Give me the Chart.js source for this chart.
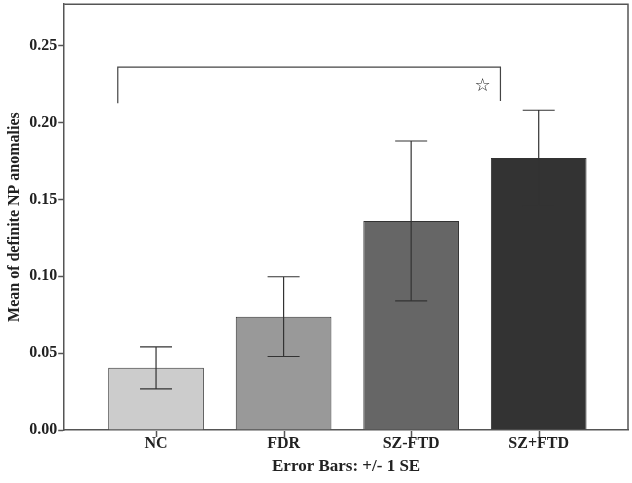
<!DOCTYPE html>
<html>
<head>
<meta charset="utf-8">
<script src="https://cdn.jsdelivr.net/npm/chart.js@4"></script>
<style>
  html, body { margin: 0; padding: 0; background: #fff; }
</style>
</head>
<body>
<canvas id="chart" width="632" height="483"></canvas>
<script>
var categories = ['NC', 'FDR', 'SZ-FTD', 'SZ+FTD'];
var means = [0.0405, 0.0737, 0.1360, 0.1770];
var errLow = [0.0268, 0.0478, 0.0840, 0.1455];
var errHigh = [0.0541, 0.0997, 0.1880, 0.2080];
var barColors = ['#cccccc', '#999999', '#666666', '#333333'];
var yTicks = [0, 0.05, 0.10, 0.15, 0.20, 0.25];

// significance bracket NC vs SZ+FTD
var bracketX = [-0.30, 2.70];
var bracketTop = 0.2360;
var bracketLegs = [0.2125, 0.2140];
var starPos = { x: 2.56, y: 0.2236 };

var serif = '"Liberation Serif", "Times New Roman", serif';

var extras = {
  id: 'extras',
  afterDraw: function (chart) {
    var c = chart.ctx, x = chart.scales.x, y = chart.scales.y, a = chart.chartArea;
    c.save();
    c.strokeStyle = '#333';
    c.lineWidth = 1.2;
    // error bars
    for (var i = 0; i < categories.length; i++) {
      var px = x.getPixelForValue(i);
      var yl = y.getPixelForValue(errLow[i]), yh = y.getPixelForValue(errHigh[i]);
      c.beginPath();
      c.moveTo(px, yl); c.lineTo(px, yh);
      c.moveTo(px - 16, yl); c.lineTo(px + 16, yl);
      c.moveTo(px - 16, yh); c.lineTo(px + 16, yh);
      c.stroke();
    }
    // bracket
    c.strokeStyle = '#444';
    var bx0 = x.getPixelForValue(bracketX[0]), bx1 = x.getPixelForValue(bracketX[1]);
    var by = y.getPixelForValue(bracketTop);
    c.beginPath();
    c.moveTo(bx0, y.getPixelForValue(bracketLegs[0]));
    c.lineTo(bx0, by);
    c.lineTo(bx1, by);
    c.lineTo(bx1, y.getPixelForValue(bracketLegs[1]));
    c.stroke();
    c.fillStyle = '#222';
    c.font = '18px "DejaVu Sans", sans-serif';
    c.textAlign = 'center';
    c.textBaseline = 'middle';
    c.fillText('\u2606', x.getPixelForValue(starPos.x), y.getPixelForValue(starPos.y));
    // frame top/right
    c.strokeStyle = '#555';
    c.lineWidth = 1.5;
    c.beginPath();
    c.moveTo(a.left, a.top); c.lineTo(a.right, a.top); c.lineTo(a.right, a.bottom);
    c.stroke();
    // x tick marks
    c.beginPath();
    for (var k = 0; k < categories.length; k++) {
      var tx = Math.round(x.getPixelForValue(k)) + 0.5;
      c.moveTo(tx, a.bottom + 1);
      c.lineTo(tx, a.bottom + 7);
    }
    c.stroke();
    c.restore();
  }
};

new Chart(document.getElementById('chart').getContext('2d'), {
  type: 'bar',
  data: {
    datasets: [{
      data: means.map(function (v, i) { return { x: i, y: v }; }),
      backgroundColor: barColors,
      borderColor: '#333',
      borderWidth: 1,
      categoryPercentage: 1,
      barPercentage: 0.75
    }]
  },
  options: {
    responsive: false,
    animation: false,
    layout: { padding: { top: 0, right: 4, left: 5, bottom: 1 } },
    plugins: { legend: { display: false }, tooltip: { enabled: false } },
    scales: {
      x: {
        type: 'linear',
        min: -0.72,
        max: 3.70,
        offset: false,
        afterBuildTicks: function (s) { s.ticks = categories.map(function (c, i) { return { value: i }; }); },
        ticks: {
          callback: function (v) { return categories[v]; },
          color: '#222', font: { family: serif, weight: 'bold', size: 16, lineHeight: 1.0 },
          padding: 6, maxRotation: 0, autoSkip: false
        },
        grid: { offset: false, drawOnChartArea: false, drawTicks: false },
        border: { color: '#555', width: 1.5 },
        title: { display: true, text: 'Error Bars: +/- 1 SE', color: '#222',
                 font: { family: serif, weight: 'bold', size: 17, lineHeight: 1.0 },
                 padding: { top: 0, bottom: 7 } }
      },
      y: {
        min: 0,
        max: 0.277,
        afterBuildTicks: function (s) { s.ticks = yTicks.map(function (v) { return { value: v }; }); },
        ticks: {
          callback: function (v) { return v.toFixed(2); },
          color: '#222', font: { family: serif, weight: 'bold', size: 16, lineHeight: 0.4 }, padding: 1
        },
        grid: { drawOnChartArea: false, tickLength: 6, color: '#555', tickWidth: 1.5 },
        border: { color: '#555', width: 1.5 },
        title: { display: true, text: 'Mean of definite NP anomalies', color: '#222',
                 font: { family: serif, weight: 'bold', size: 16 }, padding: { top: 0, bottom: 4 } }
      }
    }
  },
  plugins: [extras]
});
</script>
</body>
</html>
